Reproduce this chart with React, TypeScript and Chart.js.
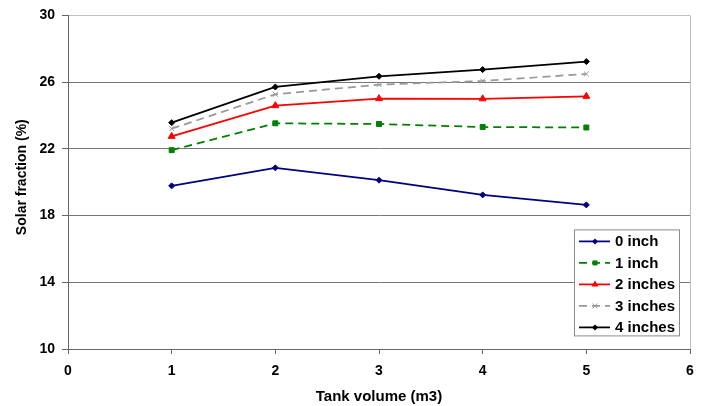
import React, { useEffect, useRef } from "react";
import { Chart, registerables } from "chart.js";

Chart.register(...registerables);

const volumes = [1, 2, 3, 4, 5];
const seriesLabels = ["0 inch", "1 inch", "2 inches", "3 inches", "4 inches"];
const inch0 = [19.78, 20.86, 20.12, 19.24, 18.64];
const inch1 = [21.92, 23.53, 23.49, 23.31, 23.28];
const inch2 = [22.75, 24.59, 25.01, 25.0, 25.15];
const inch3 = [23.21, 25.27, 25.85, 26.07, 26.49];
const inch4 = [23.57, 25.71, 26.35, 26.75, 27.23];
const xTickMin = 0;
const xTickMax = 6;
const yTickMin = 10;
const yTickMax = 30;
const yTickStep = 4;
const xTitle = "Tank volume (m3)";
const yTitle = "Solar fraction (%)";

const FONT = "'Liberation Sans', Arial, sans-serif";

function drawMarker(ctx: CanvasRenderingContext2D, style: string, x: number, y: number, r: number, color: string) {
  ctx.save();
  ctx.fillStyle = color;
  ctx.strokeStyle = color;
  ctx.lineWidth = 1;
  ctx.setLineDash([]);
  ctx.beginPath();
  if (style === "rectRot") {
    ctx.moveTo(x, y - r);
    ctx.lineTo(x + r, y);
    ctx.lineTo(x, y + r);
    ctx.lineTo(x - r, y);
    ctx.closePath();
    ctx.fill();
  } else if (style === "rect") {
    const s = r * Math.SQRT1_2;
    ctx.rect(x - s, y - s, 2 * s, 2 * s);
    ctx.fill();
  } else if (style === "triangle") {
    ctx.moveTo(x, y - r);
    ctx.lineTo(x + r * 0.866, y + r * 0.5);
    ctx.lineTo(x - r * 0.866, y + r * 0.5);
    ctx.closePath();
    ctx.fill();
  } else if (style === "crossRot") {
    const s = r * Math.SQRT1_2;
    ctx.moveTo(x - s, y - s);
    ctx.lineTo(x + s, y + s);
    ctx.moveTo(x + s, y - s);
    ctx.lineTo(x - s, y + s);
    ctx.stroke();
  }
  ctx.restore();
}

const overlayPlugin = {
  id: "overlayPlugin",
  afterDraw(chart: any) {
    const ctx: CanvasRenderingContext2D = chart.ctx;
    const area = chart.chartArea;
    // y title
    ctx.save();
    ctx.font = `bold 14px ${FONT}`;
    ctx.fillStyle = "#000";
    ctx.textAlign = "center";
    ctx.textBaseline = "middle";
    ctx.translate(22, area.top + (area.bottom - area.top) * 0.485);
    ctx.rotate(-Math.PI / 2);
    ctx.fillText(yTitle, 0, 0);
    ctx.restore();

    // legend
    const bx = area.right - 116;
    const by = area.top + 214;
    const bw = 105;
    const bh = 106;
    ctx.save();
    ctx.fillStyle = "#ffffff";
    ctx.fillRect(bx, by, bw, bh);
    ctx.strokeStyle = "#8a8a8a";
    ctx.lineWidth = 1;
    ctx.strokeRect(bx + 0.5, by + 0.5, bw, bh);
    ctx.font = `bold 15px ${FONT}`;
    ctx.textBaseline = "middle";
    ctx.textAlign = "left";
    chart.data.datasets.forEach((ds: any, i: number) => {
      const cy = by + 12 + i * 21.5;
      ctx.save();
      ctx.strokeStyle = ds.borderColor;
      ctx.lineWidth = ds.borderWidth;
      ctx.setLineDash(ds.borderDash || []);
      ctx.beginPath();
      ctx.moveTo(bx + 5, cy);
      ctx.lineTo(bx + 36, cy);
      ctx.stroke();
      ctx.restore();
      drawMarker(ctx, ds.pointStyle, bx + 21, cy, ds.pointRadius, ds.pointBackgroundColor);
      ctx.fillStyle = "#000";
      ctx.fillText(ds.label, bx + 41, cy + 0.5);
    });
    ctx.restore();
  },
};

function toPoints(values: number[]) {
  return volumes.map((v, i) => ({ x: v, y: values[i] }));
}

export default function App() {
  const canvasRef = useRef<HTMLCanvasElement | null>(null);

  useEffect(() => {
    const canvas = canvasRef.current;
    if (!canvas) return;
    const mk = (label: string, values: number[], color: string, style: string, radius: number, dash: number[], width: number) => ({
      label,
      data: toPoints(values),
      borderColor: color,
      backgroundColor: color,
      pointBackgroundColor: color,
      pointBorderColor: color,
      pointStyle: style,
      pointRadius: radius,
      pointBorderWidth: 1,
      borderWidth: width,
      borderDash: dash,
      tension: 0,
      fill: false,
    });
    const chart = new Chart(canvas, {
      type: "line",
      data: {
        datasets: [
          mk(seriesLabels[0], inch0, "#000080", "rectRot", 3, [], 1.75),
          mk(seriesLabels[1], inch1, "#008000", "rect", 3.5, [8, 5], 1.75),
          mk(seriesLabels[2], inch2, "#ff0000", "triangle", 4, [], 1.75),
          mk(seriesLabels[3], inch3, "#999999", "crossRot", 3.5, [8, 5], 1.75),
          mk(seriesLabels[4], inch4, "#000000", "rectRot", 3, [], 1.75),
        ] as any,
      },
      options: {
        responsive: false,
        animation: false,
        layout: { padding: { left: 0, right: 16, top: 15, bottom: 0 } },
        plugins: { legend: { display: false }, tooltip: { enabled: false } },
        scales: {
          x: {
            type: "linear",
            min: xTickMin,
            max: xTickMax,
            ticks: { stepSize: 1, color: "#000", font: { family: FONT, size: 14, weight: "bold" }, padding: 9 },
            grid: {
              drawOnChartArea: true,
              drawTicks: true,
              tickLength: 5,
              tickColor: "#666",
              color: (c: any) => (c.tick && c.tick.value === xTickMax ? "#c0c0c0" : "rgba(0,0,0,0)"),
              lineWidth: 1,
            },
            border: { display: true, color: "#666", width: 1 },
            title: { display: true, text: xTitle, color: "#000", font: { family: FONT, size: 15, weight: "bold" }, padding: { top: 0, bottom: 0 } },
            afterFit: (s: any) => { s.height = 57; },
          },
          y: {
            type: "linear",
            min: yTickMin,
            max: yTickMax,
            ticks: { stepSize: yTickStep, color: "#000", font: { family: FONT, size: 14, weight: "bold" }, padding: 7 },
            grid: {
              drawOnChartArea: true,
              drawTicks: true,
              tickLength: 6,
              tickColor: "#666",
              color: (c: any) => (c.tick && c.tick.value === yTickMax ? "#c0c0c0" : "#777777"),
              lineWidth: 1,
            },
            border: { display: true, color: "#666", width: 1 },
            afterFit: (s: any) => { s.width = 68; },
          },
        },
      } as any,
      plugins: [overlayPlugin],
    });
    return () => chart.destroy();
  }, []);

  return (
    <div style={{ position: "fixed", left: 0, top: 0, width: 706, height: 406, background: "#fff" }}>
      <canvas ref={canvasRef} width={706} height={406} style={{ display: "block" }} />
    </div>
  );
}
